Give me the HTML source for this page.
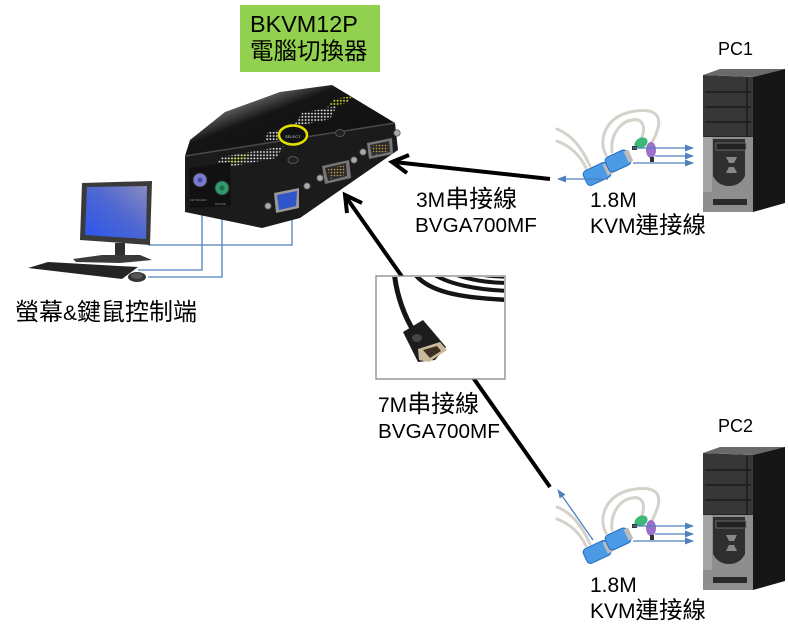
<!DOCTYPE html>
<html><head><meta charset="utf-8"><style>
html,body{margin:0;padding:0;background:#fff;}
svg{display:block;}
</style></head><body>
<svg width="788" height="633" viewBox="0 0 788 633" xmlns="http://www.w3.org/2000/svg">
<defs>
<linearGradient id="scr" x1="0" y1="1" x2="1" y2="0">
<stop offset="0" stop-color="#2a55ee"/><stop offset="0.55" stop-color="#5068d0"/><stop offset="1" stop-color="#8a8cc0"/>
</linearGradient>
<linearGradient id="topf" x1="0.9" y1="0.8" x2="0.1" y2="0.1">
<stop offset="0" stop-color="#111"/><stop offset="0.6" stop-color="#151515"/><stop offset="1" stop-color="#bbb"/>
</linearGradient>
<pattern id="dots" width="3.2" height="3.2" patternUnits="userSpaceOnUse"><circle cx="1.6" cy="1.6" r="0.95" fill="#e6e6e6"/></pattern>
<pattern id="ydots" width="3.2" height="3.2" patternUnits="userSpaceOnUse"><circle cx="1.6" cy="1.6" r="0.95" fill="#d8e030"/></pattern>
<pattern id="gdots" width="3" height="3" patternUnits="userSpaceOnUse"><circle cx="1.5" cy="1.5" r="0.8" fill="#d0a040"/></pattern>
<marker id="ba" markerWidth="9" markerHeight="8" refX="8" refY="4" orient="auto" markerUnits="userSpaceOnUse"><path d="M0,0.5 L9,4 L0,7.5 z" fill="#4f81bd"/></marker>
<clipPath id="photo"><rect x="377" y="277" width="127" height="101"/></clipPath>
</defs>

<!-- Green title box -->
<rect x="240" y="5" width="140" height="67" fill="#92d050"/>
<text x="250" y="32" font-family="Liberation Sans, sans-serif" font-size="23.4" fill="#000">BKVM12P</text>
<text x="250" y="59" font-family="Liberation Sans, 'Noto Sans CJK TC', sans-serif" font-size="23.5" fill="#000">電腦切換器</text>

<!-- Blue lines from switch to monitor -->
<g stroke="#4f81bd" stroke-width="1.3" fill="none">
<polyline points="202,206 202,270 138,270"/>
<polyline points="222,208 222,277 148,277"/>
<polyline points="292,214 292,245 148,245"/>
</g>

<!-- KVM switch -->
<g>
<polygon points="185,156 395,123 332,85 280,92 225,112 190,140" fill="url(#topf)"/>
<polygon points="185,156 395,123 398,150 300,218 262,228 185,212" fill="#1b1b1b"/>
<line x1="185" y1="156" x2="395" y2="123" stroke="#4a4a4a" stroke-width="1.5"/>
<!-- dot grids -->
<polygon points="212,170 276,158 284,146 222,157" fill="url(#dots)"/>
<polygon points="226,165 244,161 249,154 232,157" fill="url(#ydots)"/>
<polygon points="264,142 281,139 284,129 268,132" fill="url(#dots)"/>
<polygon points="293,127 330,119 337,106 302,113" fill="url(#dots)"/>
<polygon points="327,107 347,103 352,96 334,99" fill="url(#ydots)"/>
<ellipse cx="293" cy="135" rx="14" ry="9.5" fill="#111" stroke="#e6e000" stroke-width="2.5"/>
<text x="285" y="138" font-family="Liberation Sans, sans-serif" font-size="4" fill="#ccc">SELECT</text>
<ellipse cx="293" cy="160" rx="5" ry="3.5" fill="#222" stroke="#555" stroke-width="1"/>
<ellipse cx="340" cy="133" rx="4.5" ry="3.5" fill="#222" stroke="#555" stroke-width="1"/>
<!-- ps2 area -->
<polygon points="189,168 230,162 231,206 190,208" fill="#111"/>
<circle cx="200" cy="180" r="7" fill="#7b7bd0" stroke="#333"/>
<circle cx="200" cy="180" r="2.5" fill="#4a4aa0"/>
<circle cx="222" cy="188" r="7" fill="#2f9a6c" stroke="#333"/>
<circle cx="222" cy="188" r="2.5" fill="#1d6a48"/>
<text x="190" y="201" font-family="Liberation Sans, sans-serif" font-size="3" fill="#888">KEYBOARD</text>
<text x="215" y="205" font-family="Liberation Sans, sans-serif" font-size="3" fill="#888">MOUSE</text>
<!-- VGA -->
<polygon points="274,193 299,188 299,208 276,213" fill="#999"/>
<polygon points="277,195 297,191 296,206 279,210" fill="#2f55c8"/>
<!-- thumbscrews -->
<g fill="#aaa" stroke="#555" stroke-width="0.8">
<circle cx="268" cy="206" r="3.2"/><circle cx="307" cy="186" r="3.2"/><circle cx="320" cy="178" r="3.2"/>
<circle cx="354" cy="160" r="3.2"/><circle cx="363" cy="152" r="3.2"/><circle cx="397" cy="133" r="3.2"/>
</g>
<!-- DB9 male -->
<polygon points="322,166 349,160 351,178 325,184" fill="#777"/>
<polygon points="325,168 346,163 347,176 328,181" fill="#2a2a2a"/>
<polygon points="328,169 344,165 345,175 330,179" fill="url(#gdots)"/>
<polygon points="367,143 392,138 393,154 369,159" fill="#777"/>
<polygon points="370,145 389,141 390,152 372,156" fill="#2a2a2a"/>
<polygon points="372,146 388,143 388,152 374,155" fill="url(#gdots)"/>
</g>

<!-- Monitor -->
<polygon points="82,183 152,181 150,245 80,240" fill="#3a3a3a"/>
<polygon points="87,187 147,186 146,239 85,235" fill="url(#scr)"/>
<rect x="115" y="243" width="10" height="14" fill="#2f2f2f"/>
<polygon points="73,259 102,255 140,255 152,260 120,263 76,262" fill="#3a3a3a"/>
<polygon points="28,268 48,262 138,267 122,279" fill="#242424"/>
<ellipse cx="137" cy="277" rx="9" ry="5" fill="#333"/>
<ellipse cx="137" cy="276" rx="6" ry="3" fill="#555"/>

<!-- Black arrows -->
<g stroke="#000" stroke-width="4" fill="none" stroke-linecap="butt">
<line x1="550" y1="179" x2="394" y2="162"/>
<polyline points="407,173 392,162 409,155" stroke-linejoin="miter"/>
<line x1="550" y1="487" x2="346" y2="197"/>
<polyline points="347,213 345,195 362,203" stroke-linejoin="miter"/>
</g>

<!-- Photo of cable -->
<rect x="376" y="276" width="129" height="103" fill="#fff" stroke="#888" stroke-width="1.3"/>
<g clip-path="url(#photo)" fill="none" stroke="#151515" stroke-linecap="round">
<path d="M394,270 C396,295 405,318 415,333" stroke-width="5"/>
<path d="M412,270 C425,292 460,298 510,300" stroke-width="4.5"/>
<path d="M428,270 C445,285 480,290 510,291" stroke-width="4"/>
<path d="M445,270 C465,280 490,283 510,283" stroke-width="4"/>
<path d="M460,270 C478,276 495,277 510,277" stroke-width="3.5"/>
</g>
<g clip-path="url(#photo)">
<polygon points="403,332 423,320 446,347 435,360 418,362" fill="#1c1c1c"/>
<polygon points="418,349 440,342 447,350 429,362 419,360" fill="#c9b89a"/>
<polygon points="423,350 437,346 441,351 430,358" fill="#3a2f22"/>
<ellipse cx="417" cy="338" rx="5" ry="4" fill="#444"/>
</g>

<!-- Labels -->
<g font-family="Liberation Sans, 'Noto Sans CJK TC', sans-serif" fill="#000">
<text x="416" y="207"><tspan font-size="21">3M</tspan><tspan font-size="24">串接線</tspan></text>
<text x="415" y="232" font-size="20.7">BVGA700MF</text>
<text x="378" y="412"><tspan font-size="21">7M</tspan><tspan font-size="24">串接線</tspan></text>
<text x="378" y="438" font-size="20.7">BVGA700MF</text>
<text x="590" y="207" font-size="21">1.8M</text>
<text x="590" y="233"><tspan font-size="21">KVM</tspan><tspan font-size="23.5">連接線</tspan></text>
<text x="590" y="592" font-size="21">1.8M</text>
<text x="590" y="618"><tspan font-size="21">KVM</tspan><tspan font-size="23.5">連接線</tspan></text>
<text x="718" y="55" font-size="18">PC1</text>
<text x="718" y="432" font-size="18">PC2</text>
<text x="15" y="320"><tspan font-size="24">螢幕</tspan><tspan font-size="21">&amp;</tspan><tspan font-size="24">鍵鼠控制端</tspan></text>
</g>

<!-- KVM cable PC1 -->
<g id="kvm1">
<g fill="none" stroke="#d4d2ca" stroke-width="3" stroke-linecap="round">
<path d="M557,129 C572,135 582,148 590,166"/>
<path d="M557,141 C570,146 580,155 586,168"/>
<path d="M606,155 C598,140 605,118 630,112 C650,108 662,112 658,128 C656,136 653,140 651,144"/>
<path d="M612,152 C610,135 620,122 632,120 C642,118 646,126 642,137"/>
</g>
<g transform="rotate(-25 597 174)"><rect x="584" y="166" width="26" height="16" rx="4" fill="#4a9ae6" stroke="#2a6cc0"/><rect x="606" y="168" width="6" height="12" fill="#bbb"/></g>
<g transform="rotate(-25 618 161)"><rect x="606" y="153" width="24" height="16" rx="4" fill="#4a9ae6" stroke="#2a6cc0"/><rect x="627" y="155" width="5" height="12" fill="#bbb"/></g>
<g transform="rotate(-30 641 143)"><ellipse cx="641" cy="143" rx="7" ry="5" fill="#3cb878"/></g>
<rect x="632" y="146" width="5" height="4" fill="#333"/>
<ellipse cx="651" cy="150" rx="5" ry="8" fill="#9a70c8"/>
<rect x="650" y="157" width="4" height="5" fill="#333"/>
<g stroke="#4f81bd" stroke-width="1.3" fill="none">
<line x1="633" y1="148" x2="693" y2="148" marker-end="url(#ba)"/>
<line x1="655" y1="156" x2="693" y2="156" marker-end="url(#ba)"/>
<line x1="633" y1="163" x2="693" y2="163" marker-end="url(#ba)"/>
</g>
</g>
<line x1="608" y1="179" x2="558" y2="179" stroke="#4f81bd" stroke-width="1.3" marker-end="url(#ba)"/>

<!-- KVM cable PC2 -->
<use href="#kvm1" transform="translate(0,378)"/>
<line x1="593" y1="540" x2="558" y2="490" stroke="#4f81bd" stroke-width="1.3" marker-end="url(#ba)"/>

<!-- Tower PC1 -->
<g id="tower">
<polygon points="703,75 753,77 753,212 703,212" fill="#373737"/>
<polygon points="703,75 720,69 785,69 753,77" fill="#6a6a6a"/>
<polygon points="753,77 785,69 785,203 753,212" fill="#161616"/>
<g stroke="#1c1c1c" stroke-width="1.5">
<line x1="705" y1="92" x2="751" y2="92"/>
<line x1="705" y1="107" x2="751" y2="107"/>
<line x1="705" y1="122" x2="751" y2="122"/>
<line x1="705" y1="137" x2="751" y2="137"/>
<line x1="747" y1="78" x2="747" y2="137"/>
</g>
<rect x="703" y="137" width="50" height="75" fill="#8e8e8e"/>
<rect x="703" y="137" width="9" height="55" fill="#a4a4a4"/>
<path d="M713,139 L745,139 L745,176 Q740,186 729,186 Q718,186 713,176 Z" fill="#2f2f2f"/>
<rect x="716" y="143" width="30" height="7" fill="#222" stroke="#777" stroke-width="0.8"/>
<polygon points="726,157 737,157 734,163 729,163" fill="#888"/>
<polygon points="729,167 734,167 737,173 726,173" fill="#888"/>
<rect x="713" y="199" width="34" height="6" fill="#2a2a2a"/>
</g>
<use href="#tower" transform="translate(0,378)"/>
</svg>
</body></html>
